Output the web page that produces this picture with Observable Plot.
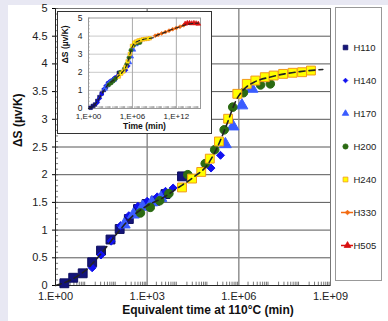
<!DOCTYPE html>
<html>
<head>
<meta charset="utf-8">
<script src="https://cdn.jsdelivr.net/npm/d3@7"></script>
<script src="https://cdn.jsdelivr.net/npm/@observablehq/plot@0.6"></script>
<style>
  body { margin: 0; }
  #wrap { position: relative; width: 388px; height: 321px; background: #e8e8f3; overflow: hidden; font-family: "Liberation Sans", Arial, sans-serif; }
  #panel { position: absolute; left: 8px; top: 5px; right: 0; bottom: 0; background: #fff; }
  #main { position: absolute; left: 0; top: 0; }
  #inset { position: absolute; left: 57px; top: 11px; border: 1px solid #333; background: #fff; line-height: 0; }
  #legend { position: absolute; left: 335px; top: 7px; border: 1px solid #999; background: #fff; line-height: 0; }
</style>
</head>
<body>
<div id="wrap"><div id="panel"></div><div id="main"></div><div id="inset"></div><div id="legend"></div></div>
<script>
// ---- data (time as log10 of minutes, ΔS in µV/K) ----
const seriesNames = ["H110", "H140", "H170", "H200", "H240", "H330", "H505"];

const h110_logt = [0.29, 0.58, 0.89, 1.2, 1.49, 1.8, 2.1, 2.4, 2.7, 2.98, 3.27, 3.6, 4.14];
const h110_ds   = [0.04, 0.14, 0.22, 0.42, 0.63, 0.83, 1.02, 1.2, 1.38, 1.47, 1.53, 1.65, 1.97];

const h140_logt = [1.2, 1.49, 1.82, 2.13, 2.4, 2.7, 3.0, 3.33, 3.6, 3.85, 5.09, 5.4];
const h140_ds   = [0.32, 0.55, 0.8, 1.08, 1.26, 1.43, 1.52, 1.6, 1.7, 1.76, 2.12, 2.35];

const h170_logt = [2.25, 2.55, 2.85, 3.15, 3.45, 5.56, 5.81, 6.1, 6.43];
const h170_ds   = [1.1, 1.28, 1.42, 1.5, 1.58, 2.55, 2.87, 3.25, 3.55];

const h200_logt = [2.78, 3.1, 3.41, 3.71, 4.33, 4.9, 5.21, 5.52, 5.8, 6.15, 6.71, 7.03];
const h200_ds   = [1.31, 1.41, 1.53, 1.66, 2.0, 2.2, 2.45, 2.81, 3.22, 3.48, 3.62, 3.64];

const h240_logt = [4.14, 4.47, 4.77, 5.05, 5.35, 5.65, 5.95, 6.26, 6.54, 6.85, 7.14, 7.45, 7.76, 8.07, 8.36];
const h240_ds   = [1.77, 1.93, 2.05, 2.29, 2.6, 3.01, 3.46, 3.64, 3.7, 3.76, 3.79, 3.82, 3.84, 3.85, 3.88];

const h330_logt = [9.1, 9.5, 10.0, 10.5, 11.0, 11.5, 12.0, 12.5, 13.0];
const h330_ds   = [4.02, 4.07, 4.15, 4.22, 4.3, 4.38, 4.45, 4.52, 4.6];

const h505_logt = [13.2, 13.5, 13.8, 14.1, 14.4, 14.7, 15.0];
const h505_ds   = [4.68, 4.72, 4.72, 4.7, 4.72, 4.7, 4.68];

const trend_logt = [0, 0.5, 1.0, 1.5, 2.0, 2.5, 3.0, 3.5, 4.0, 4.5, 5.0, 5.3, 5.6, 5.9, 6.2, 6.5, 7.0, 7.5, 8.0, 8.75];
const trend_ds   = [0, 0.1, 0.28, 0.58, 0.93, 1.24, 1.44, 1.58, 1.76, 1.95, 2.2, 2.5, 2.9, 3.33, 3.56, 3.67, 3.76, 3.82, 3.86, 3.9];
const trendExt_logt = [8.75, 9.5, 10.5, 11.5, 12.5, 13.5, 15.0];
const trendExt_ds   = [3.9, 4.07, 4.22, 4.38, 4.52, 4.65, 4.72];

const mainXTicks = [1e0, 1e3, 1e6, 1e9];
const mainYTicks = [0, 0.5, 1, 1.5, 2, 2.5, 3, 3.5, 4, 4.5, 5];
const insetXTicks = [1e0, 1e6, 1e12];
const insetYTicks = [0, 1, 2, 3, 4, 5];

const xTitle = "Equivalent time at 110°C (min)";
const yTitle = "ΔS (µv/K)";
const insetXTitle = "Time (min)";

// ---- build tables ----
const toRows = (lt, ds) => lt.map((e, i) => ({t: Math.pow(10, e), ds: ds[i]}));
const data = {
  H110: toRows(h110_logt, h110_ds),
  H140: toRows(h140_logt, h140_ds),
  H170: toRows(h170_logt, h170_ds),
  H200: toRows(h200_logt, h200_ds),
  H240: toRows(h240_logt, h240_ds),
  H330: toRows(h330_logt, h330_ds),
  H505: toRows(h505_logt, h505_ds)
};
const trend = toRows(trend_logt, trend_ds);
const trendFull = trend.concat(toRows(trendExt_logt, trendExt_ds).slice(1));

const styles = {
  H110: {symbol: "square", fill: "#14147a", stroke: "#0d0d60", r: 5},
  H140: {symbol: "diamond2", fill: "#1010f0", stroke: "#1010f0", r: 3.6},
  H170: {symbol: "triangle", fill: "#3a5cff", stroke: "#3a5cff", r: 4.4},
  H200: {symbol: "circle", fill: "#2b6a12", stroke: "#2b6a12", r: 4.3},
  H240: {symbol: "square", fill: "#ffff00", stroke: "#f29a1a", r: 5},
  H330: {symbol: "diamond2", fill: "#f26a10", stroke: "#f26a10", r: 2.4},
  H505: {symbol: "triangle", fill: "#d81010", stroke: "#d81010", r: 3}
};
const legendR = {H110: 2.6, H140: 2.1, H170: 2.4, H200: 2.6, H240: 2.7, H330: 2.1, H505: 2.5};

const fmtMain = d => "1.E+" + String(Math.round(Math.log10(d))).padStart(2, "0");
const fmtInset = d => "1,E+" + String(Math.round(Math.log10(d))).padStart(2, "0");
const fmtY = d => String(d);

// minor ticks
const minorX = [];
for (let dec = 0; dec < 9; dec++) for (let k = 2; k <= 9; k++) minorX.push(k * Math.pow(10, dec));
const minorY = d3.range(0, 51).map(i => i / 10);

const font = "Liberation Sans, Arial, sans-serif";

// ---- main chart ----
const mainMarks = [
  Plot.gridY(mainYTicks.slice(1, -1), {stroke: "#444", strokeOpacity: 1, strokeWidth: 0.9}),
  Plot.gridX([1e3, 1e6], {stroke: "#888", strokeOpacity: 1, strokeWidth: 1.4}),
  Plot.frame({stroke: "#777"}),
  Plot.ruleX(minorX, {y1: 0, y2: 0.06, stroke: "#555", strokeWidth: 0.8}),
  Plot.ruleY(minorY, {x1: 1, x2: Math.pow(10, 0.1), stroke: "#555", strokeWidth: 0.8}),
  Plot.ruleX([1], {stroke: "#222"}),
  Plot.ruleY([0], {stroke: "#222"}),
  Plot.axisX({ticks: mainXTicks, tickFormat: fmtMain, tickSize: 0, tickPadding: 7, fontSize: 11, label: null, fill: "#222"}),
  Plot.axisY({ticks: mainYTicks, tickFormat: fmtY, tickSize: 3, tickPadding: 5, fontSize: 11, label: null, fill: "#222"})
];
for (const name of ["H110", "H140", "H170", "H200", "H240"]) {
  const s = styles[name];
  mainMarks.push(Plot.dot(data[name], {x: "t", y: "ds", symbol: () => s.symbol, fill: s.fill, stroke: s.stroke, strokeWidth: 1, r: s.r}));
}
mainMarks.push(Plot.line(trend, {x: "t", y: "ds", stroke: "#222", strokeWidth: 1.6, strokeDasharray: "6,4", curve: "monotone-x"}));
mainMarks.push(Plot.text([yTitle], {frameAnchor: "left", dx: -37, rotate: -90, fontSize: 12, fontWeight: "bold", fill: "#111"}));
mainMarks.push(Plot.text([xTitle], {frameAnchor: "bottom", dx: 15, dy: 28, fontSize: 12, fontWeight: "bold", fill: "#111"}));

const main = Plot.plot({
  width: 388, height: 321,
  marginLeft: 55, marginRight: 58, marginTop: 8, marginBottom: 36,
  x: {type: "log", domain: [1, 1e9]},
  y: {domain: [0, 5]},
  symbol: {type: "identity"},
  style: {background: "transparent", fontFamily: font},
  marks: mainMarks
});
document.getElementById("main").append(main);

// ---- inset ----
const insetMinorX = [];
for (let dec = 0; dec < 15; dec++) for (let k = 2; k <= 9; k++) insetMinorX.push(k * Math.pow(10, dec));
const insetMarks = [
  Plot.gridY(insetYTicks.slice(1, -1), {stroke: "#bbb", strokeOpacity: 1, strokeWidth: 0.8}),
  Plot.gridX([1e6, 1e12], {stroke: "#aaa", strokeOpacity: 1, strokeWidth: 1}),
  Plot.frame({stroke: "#999"}),
  Plot.ruleX(insetMinorX, {y1: 0, y2: 0.1, stroke: "#999", strokeWidth: 0.6}),
  Plot.ruleY(minorY.filter((d, i) => i % 2 === 0), {x1: 1, x2: Math.pow(10, 0.25), stroke: "#999", strokeWidth: 0.6}),
  Plot.axisX({ticks: insetXTicks, tickFormat: fmtInset, tickSize: 0, tickPadding: 5, fontSize: 8, label: null, fill: "#222"}),
  Plot.axisY({ticks: insetYTicks, tickFormat: fmtY, tickSize: 0, tickPadding: 6, fontSize: 8.5, label: null, fill: "#222"}),
  Plot.line(data.H330, {x: "t", y: "ds", stroke: styles.H330.stroke, strokeWidth: 1.5}),
  Plot.line(data.H505, {x: "t", y: "ds", stroke: styles.H505.stroke, strokeWidth: 1.5})
];
for (const name of seriesNames) {
  const s = styles[name];
  insetMarks.push(Plot.dot(data[name], {x: "t", y: "ds", symbol: () => s.symbol, fill: s.fill, stroke: s.stroke, strokeWidth: 0.6, r: name === "H330" || name === "H505" ? 1.8 : 2}));
}
insetMarks.push(Plot.line(trendFull, {x: "t", y: "ds", stroke: "#222", strokeWidth: 1.2, strokeDasharray: "4,3", curve: "monotone-x"}));
insetMarks.push(Plot.text([yTitle], {frameAnchor: "left", dx: -23, rotate: -90, fontSize: 8.5, fontWeight: "bold", fill: "#111"}));
insetMarks.push(Plot.text([insetXTitle], {frameAnchor: "bottom", dy: 20.5, fontSize: 8.5, fontWeight: "bold", fill: "#111"}));

const inset = Plot.plot({
  width: 153, height: 121,
  marginLeft: 30, marginRight: 11, marginTop: 5.5, marginBottom: 25,
  x: {type: "log", domain: [1, Math.pow(10, 15.3)]},
  y: {domain: [0, 5]},
  symbol: {type: "identity"},
  style: {background: "#fff", fontFamily: font},
  marks: insetMarks
});
document.getElementById("inset").append(inset);

// ---- legend ----
const legendRows = seriesNames.map(name => ({name, ...styles[name], lined: name === "H330" || name === "H505", lr: legendR[name]}));
const lineRows = legendRows.filter(d => d.lined);
const legend = Plot.plot({
  width: 45, height: 272,
  margin: 0,
  x: {domain: [0, 45], range: [0, 45], axis: null},
  y: {type: "point", domain: seriesNames, range: [20, 255], axis: null},
  r: {type: "identity"},
  symbol: {type: "identity"},
  style: {background: "#fff", fontFamily: font},
  marks: [
    Plot.ruleY(lineRows, {y: "name", x1: 5, x2: 17, stroke: d => d.fill, strokeWidth: 1.5}),
    Plot.dot(legendRows, {x: d => d.lined ? 11 : 9, y: "name", symbol: "symbol", fill: d => d.fill, stroke: d => d.stroke, r: "lr", strokeWidth: 0.8}),
    Plot.text(legendRows, {x: 17, y: "name", text: "name", textAnchor: "start", fontSize: 9.5, fill: "#222"})
  ]
});
document.getElementById("legend").append(legend);
</script>
</body>
</html>
